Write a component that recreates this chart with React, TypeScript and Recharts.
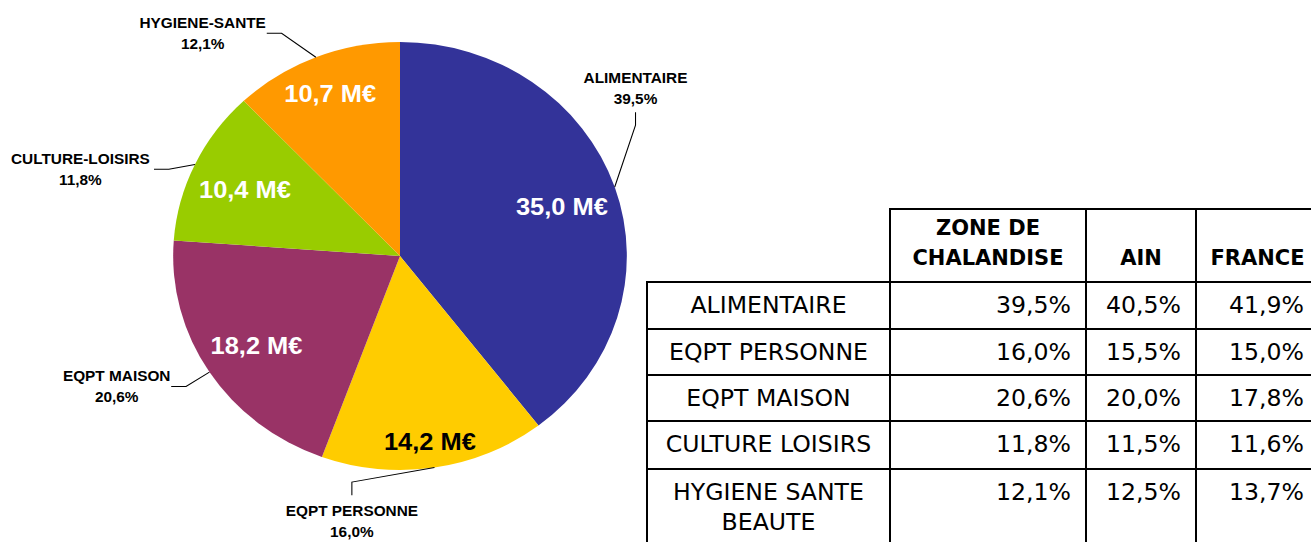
import { Cell, Pie, PieChart } from "recharts";

// Répartition des dépenses par famille de produits (zone de chalandise)
const familles = [
  "ALIMENTAIRE",
  "EQPT PERSONNE",
  "EQPT MAISON",
  "CULTURE-LOISIRS",
  "HYGIENE-SANTE",
];
const depensesME = [35.0, 14.2, 18.2, 10.4, 10.7];
const couleurs = ["#333399", "#FFCC00", "#993366", "#99CC00", "#FF9900"];
const couleursTexte = ["#FFFFFF", "#000000", "#FFFFFF", "#FFFFFF", "#FFFFFF"];

// Tableau de comparaison
const lignesTableau = [
  "ALIMENTAIRE",
  "EQPT PERSONNE",
  "EQPT MAISON",
  "CULTURE LOISIRS",
  "HYGIENE SANTE BEAUTE",
];
const enTetes = ["ZONE DE CHALANDISE", "AIN", "FRANCE"];
const partZone = [39.5, 16.0, 20.6, 11.8, 12.1];
const partAin = [40.5, 15.5, 20.0, 11.5, 12.5];
const partFrance = [41.9, 15.0, 17.8, 11.6, 13.7];

// placement des étiquettes (décalage angulaire, distance, position interne)
const placement = [
  { shift: 18.4, dist: 279, inner: 0.754 },
  { shift: -18.5, dist: 268, inner: 0.866 },
  { shift: -7, dist: 297, inner: 0.753 },
  { shift: 9.1, dist: 314, inner: 0.756 },
  { shift: 18, dist: 291, inner: 0.83 },
];

const data = familles.map((nom, i) => ({ nom, valeur: depensesME[i] }));
const fmt = (n: number) => n.toFixed(1).replace(".", ",");
const RAD = Math.PI / 180;
const PIE_FONT = '"Liberation Sans", Arial, sans-serif';

const renderLabel = (props: any) => {
  const { cx, cy, midAngle, outerRadius, percent, index, value } = props;
  const p = placement[index];
  const polar = (r: number, a: number) => [
    cx + r * Math.cos(-a * RAD),
    cy + r * Math.sin(-a * RAD),
  ];
  const [ix, iy] = polar(outerRadius * p.inner, midAngle);
  const [lx, ly] = polar(p.dist, midAngle + p.shift);
  const [ax, ay] = polar(outerRadius, midAngle);
  const nom = familles[index];
  const halfW = (nom.length * 0.62 * 14.5) / 2;
  const halfH = 20;
  let ex, ey, bx, by;
  if (Math.abs(ax - lx) / halfW > Math.abs(ay - ly) / halfH) {
    const s = ax > lx ? 1 : -1;
    ex = lx + s * (halfW + 2);
    ey = ly + 1;
    bx = ex + s * 14;
    by = ey;
  } else {
    const s = ay > ly ? 1 : -1;
    ex = lx;
    ey = ly + s * 25;
    bx = ex;
    by = ey + s * 13;
  }
  return (
    <g>
      <text
        x={ix}
        y={iy + 2.5}
        fill={couleursTexte[index]}
        textAnchor="middle"
        dominantBaseline="central"
        fontFamily={PIE_FONT}
        fontWeight="bold"
        fontSize={24}
      >
        {fmt(value)} M€
      </text>
      <path
        d={`M${ax},${ay}L${bx},${by}L${ex},${ey}`}
        stroke="#000"
        strokeWidth={1}
        fill="none"
      />
      <text
        x={lx}
        y={ly - 9.5}
        fill="#000"
        textAnchor="middle"
        dominantBaseline="central"
        fontFamily={PIE_FONT}
        fontWeight="bold"
        fontSize={14.5}
      >
        {nom}
      </text>
      <text
        x={lx}
        y={ly + 11.5}
        fill="#000"
        textAnchor="middle"
        dominantBaseline="central"
        fontFamily={PIE_FONT}
        fontWeight="bold"
        fontSize={14.5}
      >
        {fmt(percent * 100)}%
      </text>
    </g>
  );
};

// géométrie du tableau
const colX = [646, 889, 1085, 1195, 1320];
const rowY = [208, 281, 328, 374, 420, 468, 570];
const BORDER = "2px solid #000";

const Tableau = () => {
  const cells: any[] = [];
  const font = '"DejaVu Sans", Verdana, sans-serif';
  enTetes.forEach((t, j) => {
    cells.push(
      <div
        key={"h" + j}
        style={{
          position: "absolute",
          left: colX[j + 1],
          top: rowY[0],
          width: colX[j + 2] - colX[j + 1],
          height: rowY[1] - rowY[0],
          boxSizing: "border-box",
          borderTop: BORDER,
          borderLeft: BORDER,
          borderRight: j === 2 ? BORDER : undefined,
          display: "flex",
          alignItems: "flex-end",
          justifyContent: "center",
          textAlign: "center",
          fontFamily: font,
          fontWeight: "bold",
          fontSize: 21,
          lineHeight: "30px",
          padding: "0 6px 8px",
        }}
      >
        {t}
      </div>
    );
  });
  lignesTableau.forEach((nom, i) => {
    const vals = [partZone[i], partAin[i], partFrance[i]];
    [nom, ...vals.map((v) => fmt(v) + "%")].forEach((txt, j) => {
      cells.push(
        <div
          key={"c" + i + "-" + j}
          style={{
            position: "absolute",
            left: colX[j],
            top: rowY[i + 1],
            width: colX[j + 1] - colX[j],
            height: rowY[i + 2] - rowY[i + 1],
            boxSizing: "border-box",
            borderTop: BORDER,
            borderLeft: BORDER,
            borderRight: j === 3 ? BORDER : undefined,
            textAlign: j === 0 ? "center" : "right",
            fontFamily: font,
            fontSize: 23.6,
            lineHeight: "30px",
            padding: j === 0 ? "7px 8px 0" : "7px 14px 0 4px",
          }}
        >
          {txt}
        </div>
      );
    });
  });
  return <>{cells}</>;
};

export default function App() {
  return (
    <div
      style={{
        position: "absolute",
        left: 0,
        top: 0,
        width: 1311,
        height: 542,
        overflow: "hidden",
        background: "#fff",
      }}
    >
      <div
        style={{
          position: "absolute",
          left: 0,
          top: 0,
          width: 800,
          height: 542,
          transform: "scaleX(1.06)",
          transformOrigin: "400px 0",
        }}
      >
        <PieChart
          width={800}
          height={542}
          margin={{ top: 0, right: 0, bottom: 0, left: 0 }}
        >
          <Pie
            data={data}
            dataKey="valeur"
            nameKey="nom"
            cx={400}
            cy={256}
            outerRadius={214}
            startAngle={90}
            endAngle={-270}
            stroke="none"
            label={renderLabel}
            labelLine={false}
            isAnimationActive={false}
          >
            {data.map((d, i) => (
              <Cell key={d.nom} fill={couleurs[i]} />
            ))}
          </Pie>
        </PieChart>
      </div>
      <Tableau />
    </div>
  );
}
